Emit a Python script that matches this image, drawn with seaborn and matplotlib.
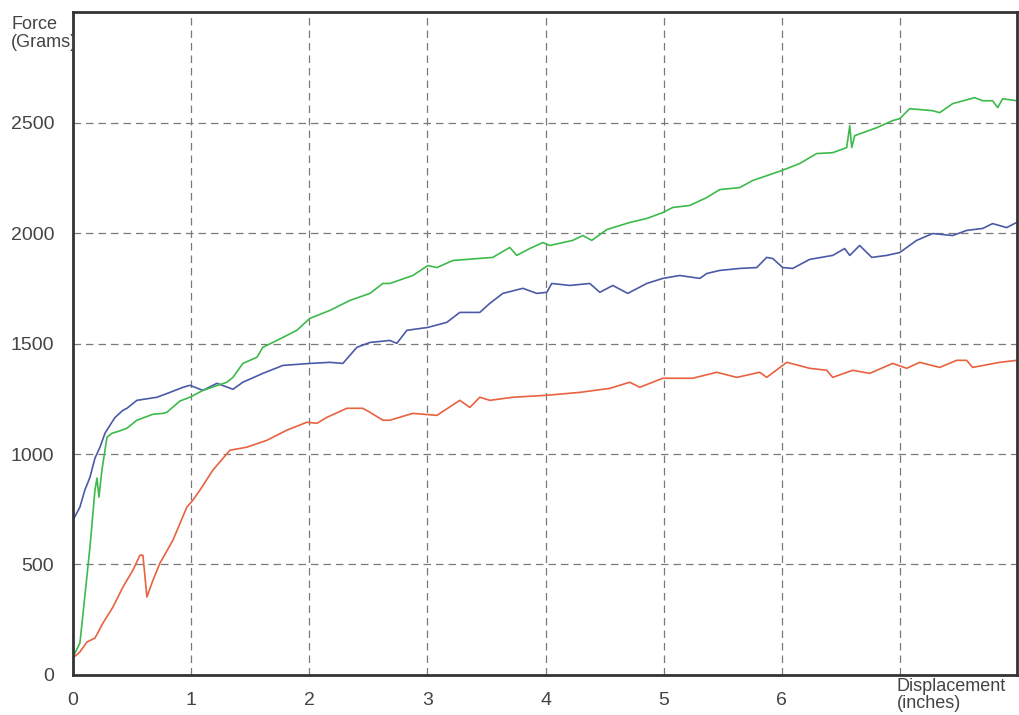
import pandas as pd
import matplotlib.pyplot as plt
import seaborn as sns

# values (displacement in inches, force in grams)
blue_x = [0, 0.059, 0.10, 0.144, 0.186, 0.228, 0.271, 0.313, 0.355, 0.423, 0.457, 0.541, 0.651,
          0.711, 0.821, 0.931, 0.99, 1.10, 1.218, 1.354, 1.438, 1.607, 1.777, 2.005, 2.174, 2.284,
          2.403, 2.513, 2.682, 2.741, 2.826, 3.003, 3.164, 3.274, 3.443, 3.528, 3.638, 3.807, 3.926,
          4.01, 4.052, 4.205, 4.374, 4.459, 4.569, 4.695, 4.856, 4.992, 5.135, 5.305, 5.364, 5.474,
          5.643, 5.787, 5.871, 5.922, 6.007, 6.091, 6.235, 6.43, 6.531, 6.574, 6.658, 6.76, 6.887,
          6.997, 7.14, 7.276, 7.445, 7.563, 7.699, 7.783, 7.902, 7.986]
blue_y = [700, 760, 836, 895, 981, 1030, 1094, 1130, 1165, 1198, 1207, 1243, 1252,
          1257, 1279, 1302, 1311, 1288, 1320, 1293, 1325, 1365, 1401, 1410, 1415, 1410,
          1483, 1505, 1514, 1501, 1560, 1573, 1596, 1641, 1641, 1682, 1727, 1750, 1727,
          1732, 1772, 1763, 1772, 1732, 1763, 1727, 1772, 1795, 1808, 1795, 1817, 1831,
          1840, 1844, 1890, 1885, 1844, 1840, 1881, 1899, 1930, 1899, 1944, 1890, 1899,
          1912, 1967, 1998, 1989, 2012, 2021, 2043, 2025, 2048]

green_x = [0, 0.059, 0.10, 0.144, 0.186, 0.203, 0.22, 0.245, 0.288, 0.33, 0.398, 0.457, 0.541,
           0.677, 0.761, 0.795, 0.905, 0.99, 1.10, 1.303, 1.354, 1.438, 1.557, 1.607, 1.726,
           1.895, 2.005, 2.174, 2.343, 2.513, 2.623, 2.682, 2.876, 3.003, 3.08, 3.215, 3.553,
           3.697, 3.756, 3.866, 3.976, 4.036, 4.23, 4.315, 4.391, 4.518, 4.712, 4.856, 4.992,
           5.076, 5.22, 5.364, 5.474, 5.643, 5.753, 5.998, 6.151, 6.294, 6.43, 6.548, 6.574,
           6.591, 6.616, 6.802, 6.937, 6.997, 7.081, 7.276, 7.335, 7.445, 7.631, 7.699, 7.783,
           7.826, 7.868, 7.986]
green_y = [81, 145, 353, 579, 836, 891, 805, 927, 1076, 1094, 1105, 1117, 1153,
           1180, 1184, 1189, 1240, 1257, 1288, 1325, 1347, 1410, 1438, 1483, 1514,
           1560, 1614, 1650, 1695, 1727, 1772, 1772, 1808, 1853, 1844, 1876, 1890,
           1935, 1899, 1930, 1957, 1944, 1967, 1989, 1967, 2016, 2048, 2066, 2093,
           2116, 2125, 2161, 2197, 2206, 2238, 2283, 2315, 2360, 2364, 2387, 2486,
           2387, 2441, 2477, 2509, 2518, 2563, 2554, 2545, 2586, 2613, 2599, 2599,
           2568, 2608, 2599]

red_x = [0, 0.059, 0.118, 0.186, 0.254, 0.338, 0.423, 0.508, 0.567, 0.592, 0.626, 0.677, 0.736,
         0.846, 0.964, 1.015, 1.074, 1.184, 1.328, 1.472, 1.641, 1.81, 1.98, 2.064, 2.149, 2.318,
         2.453, 2.513, 2.623, 2.682, 2.876, 3.08, 3.274, 3.359, 3.443, 3.528, 3.723, 4.01, 4.289,
         4.543, 4.712, 4.797, 4.992, 5.245, 5.448, 5.618, 5.812, 5.871, 6.041, 6.235, 6.379, 6.43,
         6.599, 6.743, 6.937, 7.056, 7.166, 7.335, 7.479, 7.563, 7.614, 7.843, 7.986]
red_y = [77, 104, 149, 167, 235, 307, 398, 475, 542, 542, 353, 429, 506,
         610, 760, 791, 836, 927, 1017, 1031, 1062, 1108, 1144, 1139, 1166, 1207,
         1207, 1189, 1153, 1153, 1184, 1175, 1243, 1211, 1257, 1243, 1257, 1266, 1279,
         1297, 1325, 1302, 1343, 1343, 1370, 1347, 1370, 1347, 1415, 1388, 1379, 1347,
         1379, 1365, 1410, 1388, 1415, 1392, 1424, 1424, 1392, 1415, 1424]

x_ticks = [0, 1, 2, 3, 4, 5, 6]
y_ticks = [0, 500, 1000, 1500, 2000, 2500]

sns.set_style("white")
plt.rcParams['font.family'] = ['Liberation Sans', 'DejaVu Sans']

fig = plt.figure(figsize=(10.19, 7.15), dpi=100)
ax = fig.add_axes([0.0716, 0.056, 0.9265, 0.927])

series = [(blue_x, blue_y, "#4b5aa6"), (green_x, green_y, "#3dba4c"), (red_x, red_y, "#e8623f")]
for xs, ys, col in series:
    df = pd.DataFrame({"disp": xs, "force": ys})
    sns.lineplot(data=df, x="disp", y="force", color=col, linewidth=1.2,
                 estimator=None, sort=False, ax=ax)

ax.set_xlim(0, 7.99)
ax.set_ylim(0, 3000)

# dashed grid, including the unlabelled line at 7
for gx in [1, 2, 3, 4, 5, 6, 7]:
    ax.axvline(gx, color="#7a7a7a", linestyle=(0, (6, 4)), linewidth=0.9, zorder=0)
for gy in y_ticks[1:]:
    ax.axhline(gy, color="#7a7a7a", linestyle=(0, (6, 4)), linewidth=0.9, zorder=0)

ax.set_xticks(x_ticks)
ax.set_yticks(y_ticks)
ax.tick_params(length=0, labelsize=14, labelcolor="#444444")
ax.tick_params(axis="y", pad=13.5)
ax.tick_params(axis="x", pad=12)
ax.set_xlabel("")
ax.set_ylabel("")

for s in ax.spines.values():
    s.set_color("#333333")
    s.set_linewidth(2)

fig.text(0.011, 0.978, "Force\n(Grams)", fontsize=13, color="#444444",
         ha="left", va="top", linespacing=1.1)
fig.text(0.88, 0.052, "Displacement\n(inches)", fontsize=13, color="#444444",
         ha="left", va="top", linespacing=1.0)

fig.savefig("out.png", dpi=100, facecolor="white")
